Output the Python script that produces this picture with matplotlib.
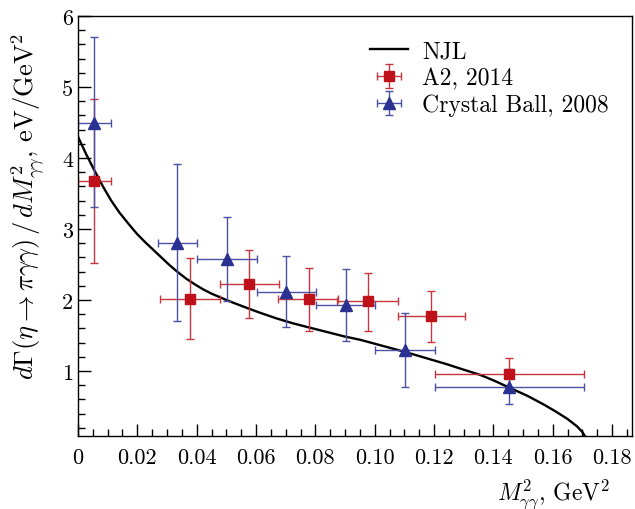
import matplotlib
matplotlib.use('Agg')
import matplotlib.pyplot as plt
from matplotlib.ticker import MultipleLocator, FuncFormatter

plt.rcParams['font.family'] = 'serif'
plt.rcParams['font.serif'] = ['cmr10']
plt.rcParams['mathtext.fontset'] = 'cm'
plt.rcParams['axes.formatter.use_mathtext'] = True

# NJL curve
njl_x = [0.0, 0.0028, 0.0056, 0.0084, 0.0112, 0.0140, 0.0169, 0.0197, 0.0225, 0.0253,
         0.0281, 0.0309, 0.0337, 0.0365, 0.0394, 0.0422, 0.0450, 0.0506, 0.0562,
         0.0614, 0.0670, 0.0726, 0.0782, 0.0839, 0.0895, 0.0951, 0.1013, 0.1075,
         0.1130, 0.1187, 0.1240, 0.1288, 0.1356, 0.1405, 0.1457, 0.1515, 0.1569,
         0.1610, 0.1648, 0.1682, 0.1700, 0.1708]
njl_y = [4.30, 4.05, 3.82, 3.60, 3.40, 3.23, 3.08, 2.94, 2.82, 2.71,
         2.60, 2.49, 2.39, 2.30, 2.22, 2.15, 2.09, 1.99, 1.90,
         1.82, 1.74, 1.67, 1.61, 1.55, 1.49, 1.44, 1.37, 1.30,
         1.235, 1.165, 1.10, 1.035, 0.945, 0.86, 0.76, 0.65, 0.53,
         0.43, 0.33, 0.22, 0.14, 0.085]

# A2, 2014
a2_x = [0.0055, 0.0377, 0.0577, 0.0777, 0.0976, 0.1190, 0.1454]
a2_y = [3.67, 2.02, 2.23, 2.01, 1.98, 1.77, 0.96]
a2_xlo = [0.0055, 0.0100, 0.0100, 0.0102, 0.0103, 0.0112, 0.0250]
a2_xhi = [0.0055, 0.0100, 0.0099, 0.0100, 0.0102, 0.0113, 0.0250]
a2_ylo = [1.15, 0.57, 0.49, 0.44, 0.42, 0.36, 0.24]
a2_yhi = [1.16, 0.57, 0.47, 0.44, 0.40, 0.36, 0.22]

# Crystal Ball, 2008
cb_x = [0.0055, 0.0335, 0.0501, 0.0702, 0.0903, 0.1103, 0.1454]
cb_y = [4.49, 2.80, 2.58, 2.12, 1.93, 1.30, 0.77]
cb_xlo = [0.0055, 0.0064, 0.0101, 0.0099, 0.0100, 0.0101, 0.0250]
cb_xhi = [0.0055, 0.0065, 0.0102, 0.0101, 0.0099, 0.0101, 0.0250]
cb_ylo = [1.18, 1.10, 0.59, 0.50, 0.51, 0.52, 0.23]
cb_yhi = [1.21, 1.11, 0.59, 0.50, 0.51, 0.52, 0.26]

red = '#bf1119'
blue = '#2b3190'

fig = plt.figure(figsize=(6.35, 5.1), dpi=100)
ax = fig.add_axes([0.1228, 0.1431, 0.8725, 0.8236])

ax.plot(njl_x, njl_y, color='black', lw=1.7, label='NJL')
ax.errorbar(a2_x, a2_y, xerr=[a2_xlo, a2_xhi], yerr=[a2_ylo, a2_yhi],
            fmt='s', color=red, ecolor='#c8363d', ms=6.5, elinewidth=1.0,
            capsize=3, capthick=1.0, label='A2, 2014')
ax.errorbar(cb_x, cb_y, xerr=[cb_xlo, cb_xhi], yerr=[cb_ylo, cb_yhi],
            fmt='^', color=blue, ecolor='#4a50a3', ms=8.5, elinewidth=1.0,
            capsize=3, capthick=1.0, label='Crystal Ball, 2008')

ax.set_xlim(0, 0.1867)
ax.set_ylim(0.085, 6)
ax.xaxis.set_major_locator(MultipleLocator(0.02))
ax.xaxis.set_minor_locator(MultipleLocator(0.005))
ax.yaxis.set_major_locator(MultipleLocator(1))
ax.yaxis.set_minor_locator(MultipleLocator(0.2))
ax.xaxis.set_major_formatter(FuncFormatter(lambda v, p: '0' if abs(v) < 1e-9 else '%.2f' % v))
ax.yaxis.set_major_formatter(FuncFormatter(lambda v, p: '%d' % round(v)))
ax.tick_params(which='both', direction='in', top=False, right=False, labelsize=16)
ax.tick_params(which='major', length=9, width=1)
ax.tick_params(which='minor', length=5, width=1)
ax.tick_params(axis='x', pad=8)
for s in ax.spines.values():
    s.set_linewidth(1.0)

ax.set_xlabel(r'$M^2_{\gamma\gamma}$, GeV$^2$', fontsize=17)
ax.xaxis.set_label_coords(0.96, -0.096)
ax.xaxis.label.set_horizontalalignment('right')
ax.set_ylabel(r'$d\Gamma(\eta\rightarrow\pi\gamma\gamma)\,/\,dM^2_{\gamma\gamma}$, eV/GeV$^2$', fontsize=19)
ax.yaxis.set_label_coords(-0.058, 0.55)

ax.legend(loc='upper left', bbox_to_anchor=(0.51, 0.965), frameon=False, fontsize=17,
          handlelength=1.6, handletextpad=0.6, labelspacing=0.2, borderaxespad=0)

fig.savefig('out.png', dpi=100)
